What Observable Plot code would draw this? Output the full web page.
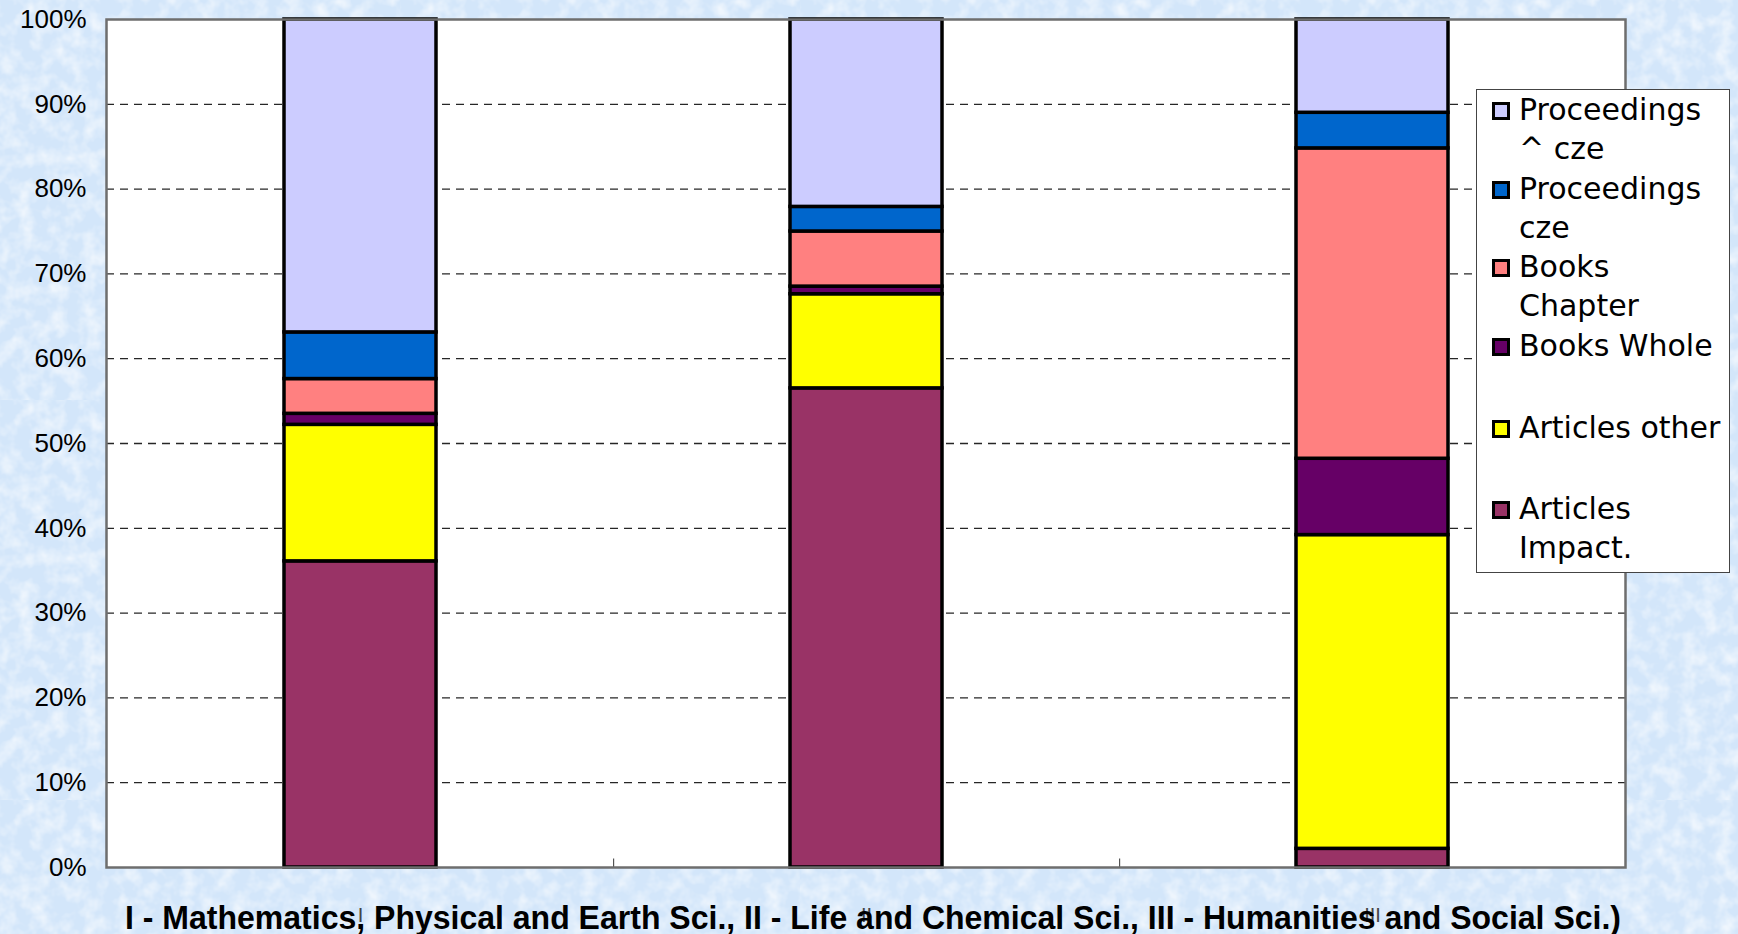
<!DOCTYPE html>
<html>
<head>
<meta charset="utf-8">
<script src="https://cdn.jsdelivr.net/npm/d3@7"></script>
<script src="https://cdn.jsdelivr.net/npm/@observablehq/plot@0.6"></script>
<style>
  html, body { margin: 0; padding: 0; }
  body {
    width: 1738px; height: 934px; overflow: hidden; position: relative;
    background-color: #d3e6fa;
    background-image: url("data:image/svg+xml,%3Csvg xmlns='http://www.w3.org/2000/svg' width='400' height='400'%3E%3Cfilter id='n'%3E%3CfeTurbulence type='fractalNoise' baseFrequency='0.06' numOctaves='3' seed='4'/%3E%3CfeColorMatrix values='0 0 0 0 1  0 0 0 0 1  0 0 0 0 1  0 0 0 1.4 -0.55'/%3E%3C/filter%3E%3Crect width='400' height='400' filter='url(%23n)'/%3E%3C/svg%3E");
  }
  #chart { position: absolute; left: 0; top: 0; }
  #legend {
    position: absolute; left: 1476px; top: 89px; width: 254px; height: 484px;
    background: #fff; border: 1.5px solid #444; box-sizing: border-box;
    font-family: "DejaVu Sans", Verdana, sans-serif; font-size: 30px; color: #000;
  }
  .row { position: absolute; left: 0; height: 78.6px; width: 254px; }
  .sw { position: absolute; left: 15px; top: 12px; width: 12px; height: 12px; border: 3px solid #000; }
  .lb { position: absolute; left: 42px; top: 0px; width: 212px; line-height: 39px; white-space: pre-wrap; }
</style>
</head>
<body>
<div id="chart"></div>
<div id="legend"></div>
<script>
// ---- data ----
const categories = ["I", "II", "III"];
const series = ["Articles Impact.", "Articles other", "Books Whole", "Books Chapter", "Proceedings cze", "Proceedings ^ cze"];
const seriesColors = ["#993366", "#FFFF00", "#660066", "#FF8080", "#0066CC", "#CCCCFF"];
const articlesImpact    = [36.1, 56.5, 2.2];
const articlesOther     = [16.1, 11.1, 37.0];
const booksWhole        = [1.3, 0.9, 9.0];
const booksChapter      = [4.1, 6.5, 36.6];
const proceedingsCze    = [5.5, 2.9, 4.2];
const proceedingsNotCze = [36.9, 22.1, 11.0];
const yTicks = [0, 10, 20, 30, 40, 50, 60, 70, 80, 90, 100];
const xTitle = "I - Mathematics, Physical and Earth Sci., II - Life and Chemical Sci., III - Humanities and Social Sci.)";

const seriesValues = [articlesImpact, articlesOther, booksWhole, booksChapter, proceedingsCze, proceedingsNotCze];
const table = [];
series.forEach((s, i) => categories.forEach((c, j) => table.push({category: c, series: s, value: seriesValues[i][j]})));

const W = 1738, H = 934;
const mL = 106, mR = 113, mT = 19, mB = 67;
const step = (W - mL - mR) / categories.length;

const plot = Plot.plot({
  width: W, height: H,
  marginLeft: mL, marginRight: mR, marginTop: mT, marginBottom: mB,
  style: {background: "transparent", fontFamily: "'Liberation Sans', Arial, sans-serif", color: "#000", overflow: "visible"},
  x: {domain: categories, paddingInner: 0.7, paddingOuter: 0.35, label: null},
  y: {domain: [0, 100], label: null},
  color: {domain: series, range: seriesColors},
  marks: [
    Plot.frame({fill: "white", stroke: "none"}),
    Plot.gridY(yTicks.slice(1, -1), {stroke: "#000", strokeOpacity: 0.85, strokeWidth: 1.3, strokeDasharray: "8,6"}),
    Plot.barY(table, {x: "category", y: "value", fill: "series", stroke: "black", strokeWidth: 3.5}),
    Plot.ruleX(categories.slice(0, -1), {x: d => d, dx: step / 2, y1: 0, y2: 1, stroke: "#333", strokeWidth: 1}),
    Plot.frame({stroke: "#6e6e6e", strokeWidth: 2.5}),
    Plot.axisY({ticks: yTicks, tickFormat: d => d + "%", tickSize: 0, tickPadding: 20, fontSize: 26}),
    Plot.axisX({tickSize: 0, tickPadding: 40, fontSize: 20, fill: "#444"}),
    Plot.text([xTitle], {frameAnchor: "bottom", lineAnchor: "middle", dy: 51, text: d => d, fontSize: 34, fontWeight: "bold", fill: "#000", className: "xtitle"})
  ]
});
document.getElementById("chart").appendChild(plot);

// condensed title to match reference width
plot.querySelectorAll(".xtitle text").forEach(t => {
  t.setAttribute("textLength", 1496);
  t.setAttribute("lengthAdjust", "spacingAndGlyphs");
  t.setAttribute("dx", 7);
});

// legend (top to bottom: reverse stack order)
const color = plot.scale("color");
const legend = document.getElementById("legend");
const rowShift = [0, 0, 0, 0, 4, 6];
series.slice().reverse().forEach((s, i) => {
  const row = document.createElement("div");
  row.className = "row";
  row.style.top = (i * 78.6 + rowShift[i]) + "px";
  const sw = document.createElement("div");
  sw.className = "sw";
  sw.style.background = color.apply(s);
  const lb = document.createElement("div");
  lb.className = "lb";
  lb.textContent = s;
  row.appendChild(sw); row.appendChild(lb);
  legend.appendChild(row);
});
</script>
</body>
</html>
